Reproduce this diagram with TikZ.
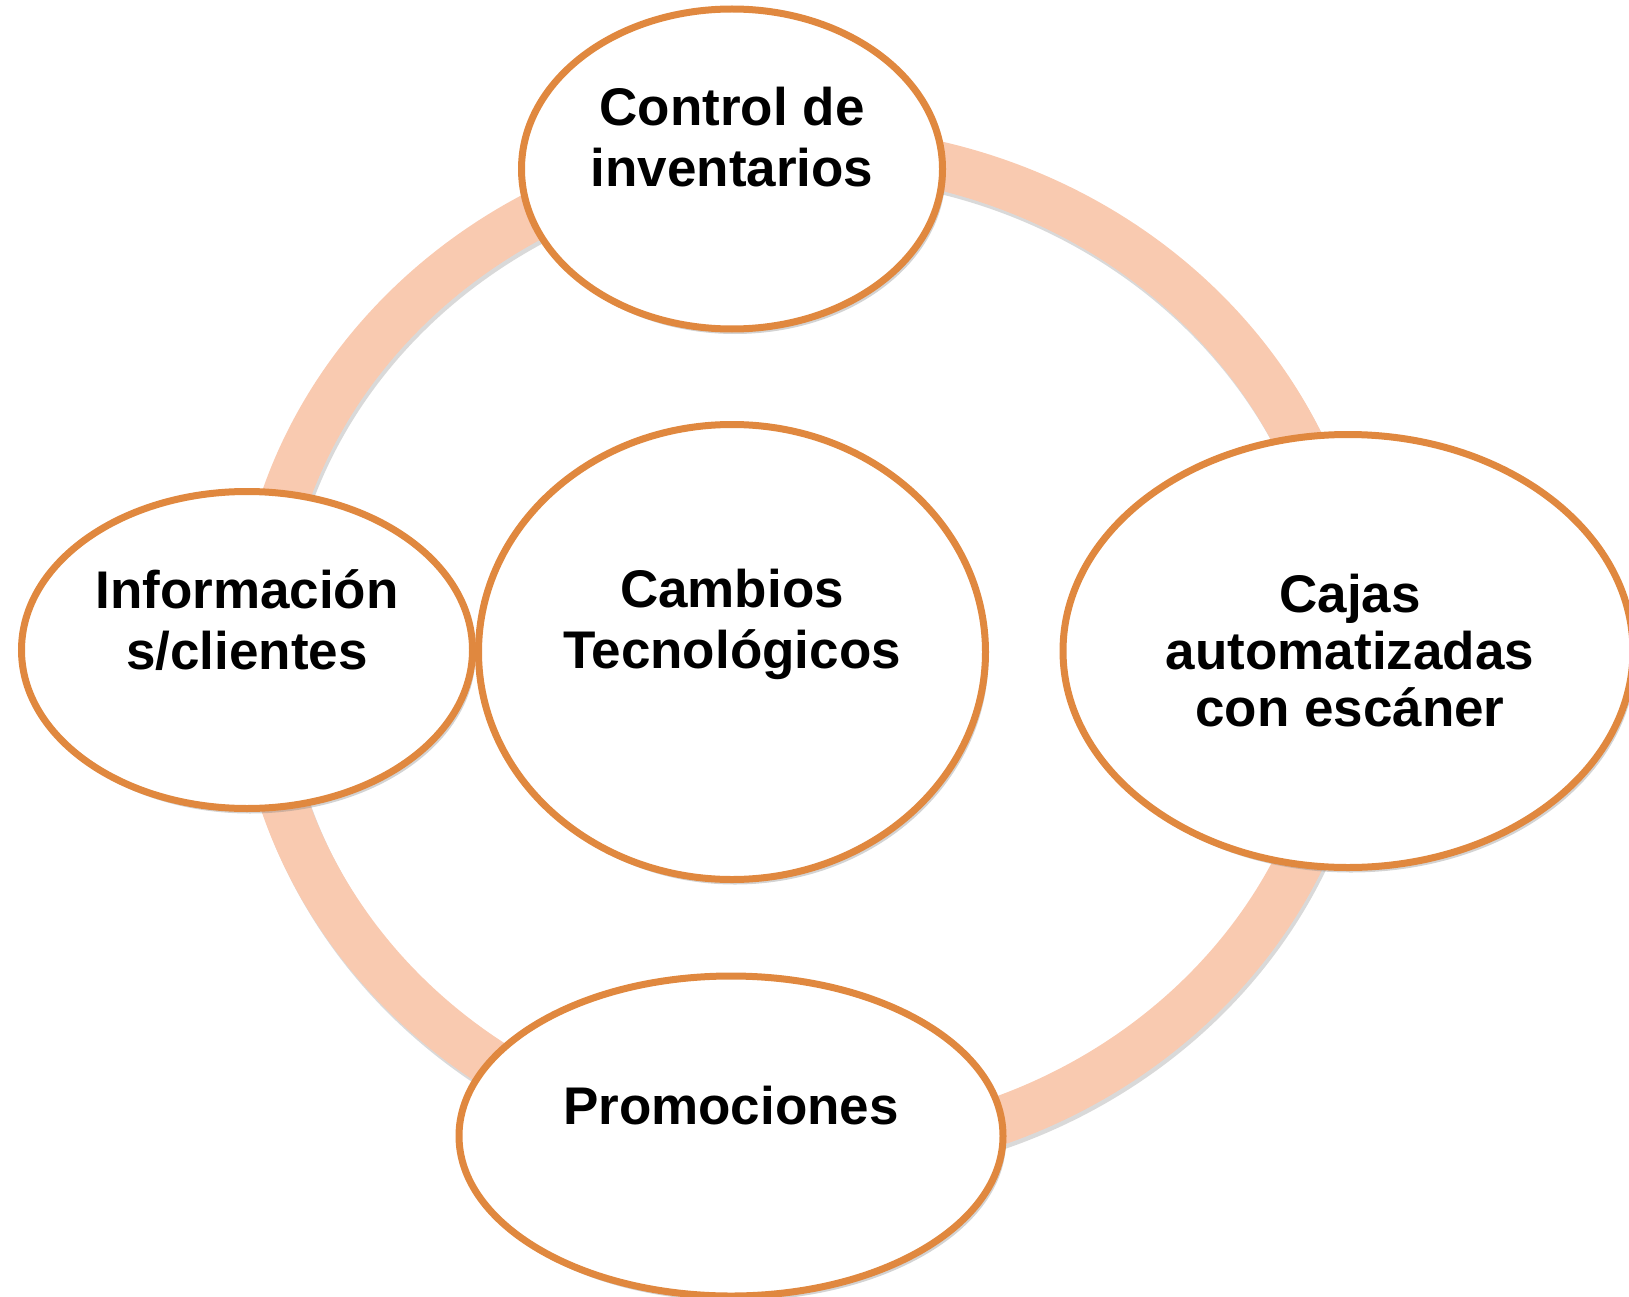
\documentclass[tikz,border=0pt]{standalone}
\usepackage{fontspec}
\setmainfont{Liberation Sans}
\usepackage{xcolor}
\usetikzlibrary{shapes,positioning,shadows}
\definecolor{ringfill}{HTML}{F9CAB0}
\definecolor{bubbleline}{HTML}{E0883F}

\begin{document}
\begin{tikzpicture}[x=1pt,y=-1pt,
  bubble/.style={ellipse,draw=bubbleline,line width=7pt,fill=white,
    drop shadow={opacity=0.35,shadow xshift=3pt,shadow yshift=-5pt}},
  lbl/.style={align=center,font=\fontsize{53}{61}\selectfont\bfseries}]
\useasboundingbox (0,0) rectangle (1629,1297);
\draw[black,opacity=0.15,line width=48pt] (806,656) ellipse [x radius=545, y radius=502];
\draw[ringfill,line width=48pt] (804,652) ellipse [x radius=545, y radius=502];

\node[bubble,minimum width=421pt,minimum height=320pt] (inv) at (732,169) {};
\node[bubble,minimum width=451pt,minimum height=317pt] (info) at (247,650) {};
\node[bubble,minimum width=570pt,minimum height=433pt] (cajas) at (1348,651) {};
\node[bubble,minimum width=544pt,minimum height=320pt] (promo) at (731,1136) {};
\node[bubble,minimum width=507pt,minimum height=455pt] (cambios) at (732,652) {};

\node[lbl] (inv-t) at ([yshift=32pt]inv.center) {Control de\\inventarios};
\node[lbl] (info-t) at ([yshift=30pt]info.center) {Información\\s/clientes};
\node[lbl,font=\fontsize{53}{57}\selectfont\bfseries] (cajas-t) at ([xshift=2pt]cajas.center) {Cajas\\automatizadas\\con escáner};
\node[lbl] (promo-t) at ([yshift=30pt]promo.center) {Promociones};
\node[lbl] (cambios-t) at ([yshift=28pt]cambios.center) {Cambios\\Tecnológicos};
\end{tikzpicture}
\end{document}
